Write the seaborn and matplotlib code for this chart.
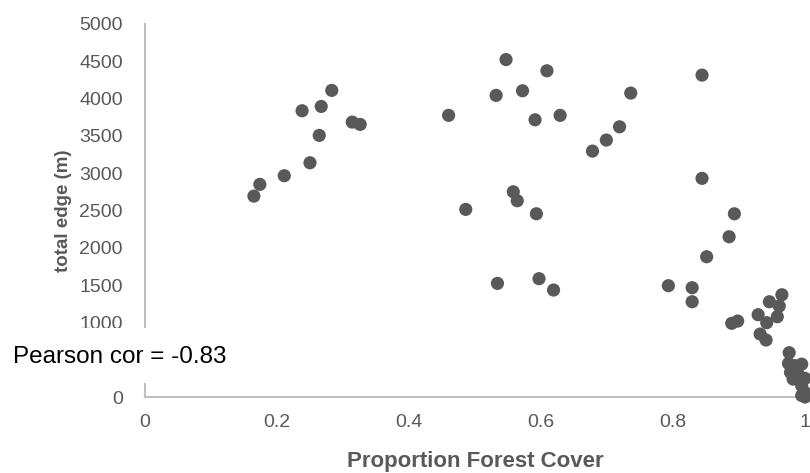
import matplotlib
matplotlib.use("Agg")
import matplotlib.pyplot as plt
import seaborn as sns
import pandas as pd
from matplotlib.patches import Rectangle

# Proportion forest cover (x) and total edge in metres (y)
forest_cover = [
    0.165, 0.174, 0.211, 0.250, 0.264, 0.238, 0.267, 0.283, 0.314, 0.326,
    0.460, 0.547, 0.609, 0.532, 0.572, 0.591, 0.629, 0.736, 0.719, 0.699,
    0.678, 0.844, 0.844, 0.558, 0.564, 0.486, 0.593, 0.893, 0.885, 0.851,
    0.534, 0.597, 0.619, 0.793, 0.829, 0.829, 0.889, 0.898, 0.929, 0.946,
    0.965, 0.961, 0.958, 0.942, 0.932, 0.941, 0.976, 0.975, 0.985, 0.995,
    0.978, 0.990, 1.000, 0.982, 0.995, 1.000, 0.995, 1.000,
]
total_edge = [
    2693, 2850, 2966, 3140, 3507, 3837, 3895, 4110, 3685, 3654,
    3775, 4523, 4373, 4043, 4105, 3716, 3775, 4074, 3622, 3444,
    3296, 4315, 2931, 2751, 2631, 2515, 2456, 2456, 2148, 1880,
    1523, 1586, 1434, 1492, 1465, 1277, 988, 1018, 1103, 1277,
    1371, 1219, 1076, 996, 844, 764, 594, 450, 420, 440,
    330, 300, 250, 240, 150, 60, 20, 0,
]
x_ticks = [0, 0.2, 0.4, 0.6, 0.8, 1.0]
x_tick_labels = ["0", "0.2", "0.4", "0.6", "0.8", "1"]
y_ticks = list(range(0, 5001, 500))
# the 500 label is hidden behind the annotation box in the reference
y_tick_labels = ["" if v == 500 else str(v) for v in y_ticks]
x_label = "Proportion Forest Cover"
y_label = "total edge (m)"
annotation = "Pearson cor = -0.83"

df = pd.DataFrame({"cover": forest_cover, "edge": total_edge})

sns.set_style("white")
plt.rcParams["font.family"] = ["Liberation Sans", "DejaVu Sans"]

W, H = 810, 473
fig = plt.figure(figsize=(W / 100, H / 100), dpi=100)
ax = fig.add_axes([145 / W, (H - 397) / H, 660 / W, 373 / H])

grey = "#595959"
sns.scatterplot(data=df, x="cover", y="edge", ax=ax, s=90, color=grey,
                edgecolor="none", linewidth=0, clip_on=False, zorder=3)

ax.set_xlim(0, 1.0)
ax.set_ylim(0, 5000)
ax.set_xticks(x_ticks)
ax.set_xticklabels(x_tick_labels)
ax.set_yticks(y_ticks)
ax.set_yticklabels(y_tick_labels)
ax.tick_params(axis="both", length=0, labelsize=14, labelcolor=grey)
ax.tick_params(axis="y", pad=16)
ax.tick_params(axis="x", pad=12)

for side in ["top", "right"]:
    ax.spines[side].set_visible(False)
for side in ["left", "bottom"]:
    ax.spines[side].set_color("#bfbfbf")
    ax.spines[side].set_linewidth(1.5)

ax.set_xlabel(x_label, fontsize=16, fontweight="bold", color=grey, va="center")
ax.set_ylabel(y_label, fontsize=13.5, fontweight="bold", color=grey, va="center")
ax.xaxis.set_label_coords(0.5, (397 - 461) / 373)
ax.yaxis.set_label_coords((63 - 145) / 660, 0.5)

# white box with correlation annotation, covering part of the y axis
fig.patches.append(Rectangle((0, (H - 383) / H), 232 / W, 55 / H,
                             transform=fig.transFigure, facecolor="white",
                             edgecolor="none", zorder=5))
fig.text(13 / W, (H - 357) / H, annotation, fontsize=17.5, color="black",
         ha="left", va="center", zorder=6)

fig.savefig("out.png", dpi=100, facecolor="white")
